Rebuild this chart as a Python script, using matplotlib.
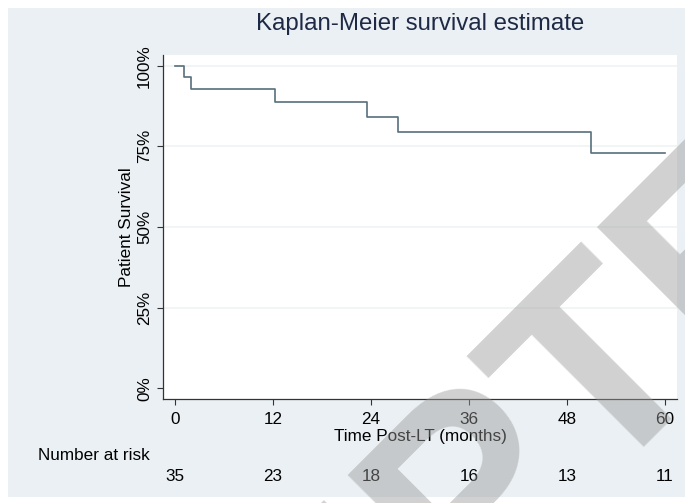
import numpy as np
import matplotlib
matplotlib.use("Agg")
import matplotlib.pyplot as plt
from matplotlib.patches import Rectangle
import matplotlib.transforms as mtransforms

# Kaplan-Meier estimate
times = [0, 1.1, 1.9, 12.3, 23.5, 27.3, 50.9, 60.0]
surv = [1.0, 0.964, 0.928, 0.887, 0.840, 0.794, 0.729, 0.729]

# number at risk table
risk_times = [0, 12, 24, 36, 48, 60]
at_risk = [35, 23, 18, 16, 13, 11]

y_ticks = [0, 0.25, 0.5, 0.75, 1.0]
y_labels = ["0%", "25%", "50%", "75%", "100%"]

W, H = 685, 503
plt.rcParams['font.family'] = ['Liberation Sans', 'DejaVu Sans']

fig = plt.figure(figsize=(W / 100, H / 100), dpi=100)
fig.patch.set_facecolor("white")
# stata style graph region
fig.add_artist(Rectangle((8 / W, 0.012), 1, 1 - 8 / H - 0.012, transform=fig.transFigure,
                         facecolor="#eaf0f3", edgecolor="none", zorder=-5))

ax = fig.add_axes([163 / W, 1 - 399 / H, 514 / W, 344 / H])
ax.set_facecolor("white")

for g in y_ticks[1:]:
    ax.axhline(g, color="#eef2f4", lw=1.1, zorder=1)

ax.step(times, surv, where="post", color="#56707b", lw=1.2, zorder=3)

ax.set_xlim(-1.47, 61.47)
ax.set_ylim(-0.033, 1.033)
ax.set_xticks(risk_times)
ax.set_yticks(y_ticks)
ax.set_yticklabels(y_labels, rotation=90, va="center")
ax.tick_params(axis="both", labelsize=12.3, length=4.5, width=0.8, color="#333333", pad=3.5)
ax.tick_params(axis="x", pad=4.5)
for side in ["top", "right"]:
    ax.spines[side].set_visible(False)
for side in ["left", "bottom"]:
    ax.spines[side].set_linewidth(0.9)
    ax.spines[side].set_color("#333333")

ax.set_xlabel("Time Post-LT (months)", fontsize=12.3, labelpad=2)
ax.set_ylabel("Patient Survival", fontsize=12.3, labelpad=2)
ax.set_title("Kaplan-Meier survival estimate", fontsize=17.3, color="#1e2a45", pad=18)

# number at risk row
trans = mtransforms.blended_transform_factory(ax.transData, ax.transAxes)
fig.text(38 / W, 1 - 455 / H, "Number at risk", fontsize=12.3, va="center", ha="left")
for t, n in zip(risk_times, at_risk):
    ax.text(t, -0.226, str(n), transform=trans, ha="center", va="center", fontsize=12.3)

# diagonal watermark
wm_size = 198
fig.canvas.draw()
rend = fig.canvas.get_renderer()
probe = fig.text(0, 0, "ACCEP", fontsize=wm_size, fontweight="bold")
w = probe.get_window_extent(renderer=rend).width
probe.remove()
r0, u0 = 76 - w, -772
x0 = (r0 - u0) / np.sqrt(2)
y0 = -(r0 + u0) / np.sqrt(2)
fig.text(x0 / W, 1 - y0 / H, "ACCEPTED MANUSCRIPT", fontsize=wm_size, fontweight="bold",
         rotation=45, rotation_mode="anchor", ha="left", va="baseline",
         color="#9a9a9a", alpha=0.45, zorder=10)

fig.savefig("out.png", dpi=100)
